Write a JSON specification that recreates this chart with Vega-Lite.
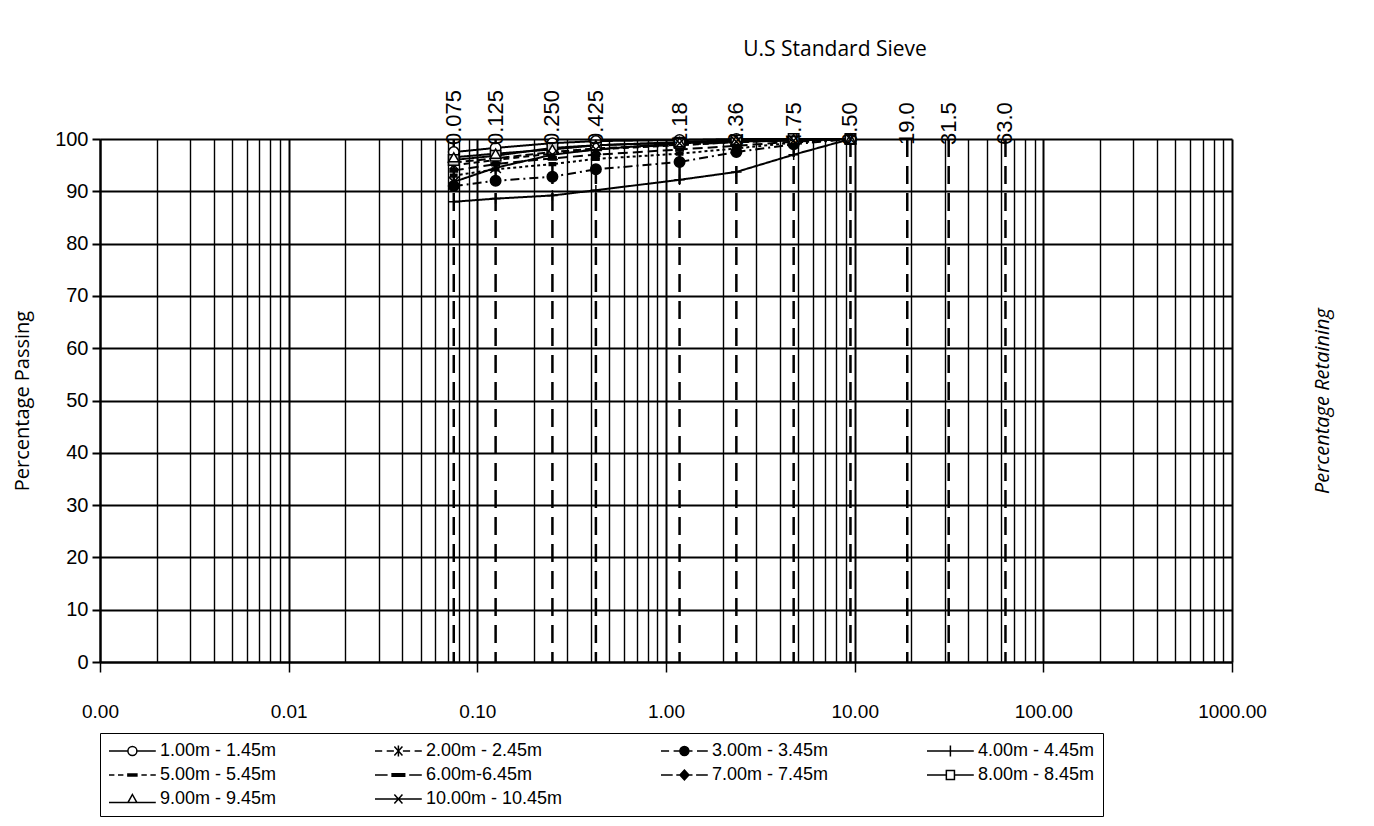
{
  "$schema": "https://vega.github.io/schema/vega-lite/v6.json",
  "width": 1132,
  "height": 523,
  "autosize": {"type": "none"},
  "padding": {"left": 100, "top": 139, "right": 142, "bottom": 164},
  "background": "white",
  "config": {"view": {"stroke": null}, "font": "Liberation Sans"},
  "title": {"text": "U.S Standard Sieve", "fontSize": 21, "font": "Open Sans", "fontWeight": "normal", "color": "black", "anchor": "middle", "dx": 169, "offset": 30},
  "datasets": {
    "curves": [
      {"s": "1.00m - 1.45m", "size": 0.075, "pct": 97.5}, {"s": "1.00m - 1.45m", "size": 0.125, "pct": 98.3}, {"s": "1.00m - 1.45m", "size": 0.25, "pct": 99.2}, {"s": "1.00m - 1.45m", "size": 0.425, "pct": 99.6}, {"s": "1.00m - 1.45m", "size": 1.18, "pct": 99.8}, {"s": "1.00m - 1.45m", "size": 2.36, "pct": 100}, {"s": "1.00m - 1.45m", "size": 4.75, "pct": 100}, {"s": "1.00m - 1.45m", "size": 9.5, "pct": 100},
      {"s": "2.00m - 2.45m", "size": 0.075, "pct": 95}, {"s": "2.00m - 2.45m", "size": 0.125, "pct": 96}, {"s": "2.00m - 2.45m", "size": 0.25, "pct": 97.2}, {"s": "2.00m - 2.45m", "size": 0.425, "pct": 98}, {"s": "2.00m - 2.45m", "size": 1.18, "pct": 98.8}, {"s": "2.00m - 2.45m", "size": 2.36, "pct": 99.4}, {"s": "2.00m - 2.45m", "size": 4.75, "pct": 99.8}, {"s": "2.00m - 2.45m", "size": 9.5, "pct": 100},
      {"s": "3.00m - 3.45m", "size": 0.075, "pct": 91}, {"s": "3.00m - 3.45m", "size": 0.125, "pct": 92}, {"s": "3.00m - 3.45m", "size": 0.25, "pct": 92.8}, {"s": "3.00m - 3.45m", "size": 0.425, "pct": 94.2}, {"s": "3.00m - 3.45m", "size": 1.18, "pct": 95.6}, {"s": "3.00m - 3.45m", "size": 2.36, "pct": 97.5}, {"s": "3.00m - 3.45m", "size": 4.75, "pct": 99}, {"s": "3.00m - 3.45m", "size": 9.5, "pct": 100},
      {"s": "4.00m - 4.45m", "size": 0.075, "pct": 88}, {"s": "4.00m - 4.45m", "size": 0.125, "pct": 88.6}, {"s": "4.00m - 4.45m", "size": 0.25, "pct": 89.2}, {"s": "4.00m - 4.45m", "size": 0.425, "pct": 90.2}, {"s": "4.00m - 4.45m", "size": 1.18, "pct": 92.2}, {"s": "4.00m - 4.45m", "size": 2.36, "pct": 93.7}, {"s": "4.00m - 4.45m", "size": 4.75, "pct": 97}, {"s": "4.00m - 4.45m", "size": 9.5, "pct": 100},
      {"s": "5.00m - 5.45m", "size": 0.075, "pct": 93}, {"s": "5.00m - 5.45m", "size": 0.125, "pct": 94.2}, {"s": "5.00m - 5.45m", "size": 0.25, "pct": 95.2}, {"s": "5.00m - 5.45m", "size": 0.425, "pct": 96.2}, {"s": "5.00m - 5.45m", "size": 1.18, "pct": 97.2}, {"s": "5.00m - 5.45m", "size": 2.36, "pct": 98.2}, {"s": "5.00m - 5.45m", "size": 4.75, "pct": 99.3}, {"s": "5.00m - 5.45m", "size": 9.5, "pct": 100},
      {"s": "6.00m-6.45m", "size": 0.075, "pct": 94}, {"s": "6.00m-6.45m", "size": 0.125, "pct": 95.2}, {"s": "6.00m-6.45m", "size": 0.25, "pct": 96.3}, {"s": "6.00m-6.45m", "size": 0.425, "pct": 97}, {"s": "6.00m-6.45m", "size": 1.18, "pct": 98}, {"s": "6.00m-6.45m", "size": 2.36, "pct": 98.7}, {"s": "6.00m-6.45m", "size": 4.75, "pct": 99.5}, {"s": "6.00m-6.45m", "size": 9.5, "pct": 100},
      {"s": "7.00m - 7.45m", "size": 0.075, "pct": 95.5}, {"s": "7.00m - 7.45m", "size": 0.125, "pct": 96.3}, {"s": "7.00m - 7.45m", "size": 0.25, "pct": 97.5}, {"s": "7.00m - 7.45m", "size": 0.425, "pct": 98.2}, {"s": "7.00m - 7.45m", "size": 1.18, "pct": 98.9}, {"s": "7.00m - 7.45m", "size": 2.36, "pct": 99.4}, {"s": "7.00m - 7.45m", "size": 4.75, "pct": 99.8}, {"s": "7.00m - 7.45m", "size": 9.5, "pct": 100},
      {"s": "8.00m - 8.45m", "size": 0.075, "pct": 96}, {"s": "8.00m - 8.45m", "size": 0.125, "pct": 96.8}, {"s": "8.00m - 8.45m", "size": 0.25, "pct": 98.3}, {"s": "8.00m - 8.45m", "size": 0.425, "pct": 98.8}, {"s": "8.00m - 8.45m", "size": 1.18, "pct": 99.3}, {"s": "8.00m - 8.45m", "size": 2.36, "pct": 99.7}, {"s": "8.00m - 8.45m", "size": 4.75, "pct": 100}, {"s": "8.00m - 8.45m", "size": 9.5, "pct": 100},
      {"s": "9.00m - 9.45m", "size": 0.075, "pct": 96.5}, {"s": "9.00m - 9.45m", "size": 0.125, "pct": 97.2}, {"s": "9.00m - 9.45m", "size": 0.25, "pct": 98}, {"s": "9.00m - 9.45m", "size": 0.425, "pct": 98.8}, {"s": "9.00m - 9.45m", "size": 1.18, "pct": 99.4}, {"s": "9.00m - 9.45m", "size": 2.36, "pct": 99.8}, {"s": "9.00m - 9.45m", "size": 4.75, "pct": 100}, {"s": "9.00m - 9.45m", "size": 9.5, "pct": 100},
      {"s": "10.00m - 10.45m", "size": 0.075, "pct": 91.8}, {"s": "10.00m - 10.45m", "size": 0.125, "pct": 94.5}, {"s": "10.00m - 10.45m", "size": 0.25, "pct": 97}, {"s": "10.00m - 10.45m", "size": 0.425, "pct": 98}, {"s": "10.00m - 10.45m", "size": 1.18, "pct": 99.2}, {"s": "10.00m - 10.45m", "size": 2.36, "pct": 99.5}, {"s": "10.00m - 10.45m", "size": 4.75, "pct": 99.7}, {"s": "10.00m - 10.45m", "size": 9.5, "pct": 100}
    ],
    "sieves": [
      {"size": 0.075, "label": "0.075"}, {"size": 0.125, "label": "0.125"}, {"size": 0.25, "label": "0.250"}, {"size": 0.425, "label": "0.425"},
      {"size": 1.18, "label": "1.18"}, {"size": 2.36, "label": "2.36"}, {"size": 4.75, "label": "4.75"}, {"size": 9.5, "label": "9.50"},
      {"size": 19, "label": "19.0"}, {"size": 31.5, "label": "31.5"}, {"size": 63, "label": "63.0"}
    ]
  },
  "layer": [
    {
      "data": {"name": "curves"},
      "mark": {"type": "line", "color": "black", "strokeWidth": 2},
      "encoding": {
        "x": {"field": "size", "type": "quantitative", "title": null, "scale": {"type": "log", "domain": [0.001, 1000], "nice": false},
          "axis": {"orient": "bottom", "title": null,
            "values": [0.001,0.002,0.003,0.004,0.005,0.006,0.007,0.008,0.009,0.01,0.02,0.03,0.04,0.05,0.06,0.07,0.08,0.09,0.1,0.2,0.3,0.4,0.5,0.6,0.7,0.8,0.9,1,2,3,4,5,6,7,8,9,10,20,30,40,50,60,70,80,90,100,200,300,400,500,600,700,800,900,1000],
            "labelExpr": "abs(log(datum.value)/LN10 - round(log(datum.value)/LN10)) < 0.000001 ? format(datum.value, '.2f') : ''",
            "grid": true, "gridColor": "black", "gridOpacity": 1,
            "gridWidth": {"condition": {"test": "abs(log(datum.value)/LN10 - round(log(datum.value)/LN10)) < 0.000001", "value": 2}, "value": 1.4},
            "tickSize": 10, "tickColor": "black", "tickWidth": 1.5,
            "tickOpacity": {"condition": {"test": "abs(log(datum.value)/LN10 - round(log(datum.value)/LN10)) < 0.000001", "value": 1}, "value": 0},
            "domainColor": "black", "domainWidth": 2,
            "labelFontSize": 19, "labelFont": "Liberation Sans", "labelColor": "black", "labelPadding": 30,
            "labelOverlap": false, "labelFlush": false}},
        "y": {"field": "pct", "type": "quantitative", "scale": {"domain": [0, 100], "nice": false},
          "axis": {"orient": "left", "values": [0,10,20,30,40,50,60,70,80,90,100],
            "grid": true, "gridColor": "black", "gridWidth": 2, "gridOpacity": 1,
            "domainColor": "black", "domainWidth": 2, "tickColor": "black", "tickSize": 8, "tickWidth": 2,
            "labelFontSize": 20, "labelFont": "Liberation Sans", "labelColor": "black", "labelPadding": 4,
            "title": "Percentage Passing", "titleFontSize": 20, "titleFont": "Open Sans", "titleFontWeight": "normal", "titleColor": "black", "titlePadding": 22}},
        "strokeDash": {"field": "s", "type": "nominal",
          "scale": {"domain": ["1.00m - 1.45m","2.00m - 2.45m","3.00m - 3.45m","4.00m - 4.45m","5.00m - 5.45m","6.00m-6.45m","7.00m - 7.45m","8.00m - 8.45m","9.00m - 9.45m","10.00m - 10.45m"],
            "range": [[1,0],[6,4],[9,4,2,4],[1,0],[3,3],[10,5],[8,4],[1,0],[1,0],[1,0]]},
          "legend": null}
      }
    },
    {
      "data": {"name": "sieves"},
      "mark": {"type": "rule", "color": "black", "strokeWidth": 2.5, "strokeDash": [18, 9]},
      "encoding": {
        "x": {"field": "size", "type": "quantitative", "title": null}
      }
    },
    {
      "data": {"name": "curves"},
      "mark": {"type": "point", "filled": true, "stroke": "black", "strokeWidth": 1.5, "size": 110, "opacity": 1},
      "encoding": {
        "x": {"field": "size", "type": "quantitative", "title": null},
        "y": {"field": "pct", "type": "quantitative", "axis": null},
        "shape": {"field": "s", "type": "nominal",
          "scale": {"domain": ["1.00m - 1.45m","2.00m - 2.45m","3.00m - 3.45m","4.00m - 4.45m","5.00m - 5.45m","6.00m-6.45m","7.00m - 7.45m","8.00m - 8.45m","9.00m - 9.45m","10.00m - 10.45m"],
            "range": ["circle", "M-1,0H1M0,-1V1M-0.7,-0.7L0.7,0.7M-0.7,0.7L0.7,-0.7", "circle", "M-1,0H1M0,-1V1", "M-0.6,-0.25H0.6V0.25H-0.6Z", "M-0.7,-0.3H0.7V0.3H-0.7Z", "diamond", "square", "triangle-up", "M-1,-1L1,1M-1,1L1,-1"]},
          "legend": null},
        "fill": {"field": "s", "type": "nominal",
          "scale": {"domain": ["1.00m - 1.45m","2.00m - 2.45m","3.00m - 3.45m","4.00m - 4.45m","5.00m - 5.45m","6.00m-6.45m","7.00m - 7.45m","8.00m - 8.45m","9.00m - 9.45m","10.00m - 10.45m"],
            "range": ["white","white","black","white","black","black","black","#d0d0d0","white","white"]},
          "legend": null}
      }
    },
    {
      "data": {"name": "curves"},
      "mark": {"type": "point", "filled": true, "stroke": "black", "strokeWidth": 1.5, "size": 324, "opacity": 0},
      "encoding": {
        "x": {"field": "size", "type": "quantitative", "title": null},
        "y": {"field": "pct", "type": "quantitative", "axis": null},
        "shape": {"field": "s", "type": "nominal",
          "scale": {"domain": ["1.00m - 1.45m","2.00m - 2.45m","3.00m - 3.45m","4.00m - 4.45m","5.00m - 5.45m","6.00m-6.45m","7.00m - 7.45m","8.00m - 8.45m","9.00m - 9.45m","10.00m - 10.45m"],
            "range": [
              "M-1,0H1.1M2.1,0H4.2M1.1,0A0.5,0.5 0 1,0 2.1,0A0.5,0.5 0 1,0 1.1,0Z",
              "M-1,0H-0.2M0.3,0H1.1M2.1,0H2.9M3.4,0H4.2M1.15,-0.5L2.05,0.5M1.15,0.5L2.05,-0.5M1.6,-0.6V0.6",
              "M-1,0H-0.1M0.4,0H1.1M2.1,0H2.5M3,0H4.2M1.1,0A0.5,0.5 0 1,0 2.1,0A0.5,0.5 0 1,0 1.1,0Z",
              "M-1,0H4.2M1.6,-0.6V0.6",
              "M-1,0H-0.4M0,0H0.6M1.1,-0.12H2.1V0.12H1.1ZM2.6,0H3.2M3.6,0H4.2",
              "M-1,0H0.4M0.9,-0.15H2.3V0.15H0.9ZM2.8,0H4.2",
              "M-1,0H0.3M0.7,0H1.1M2.1,0H2.5M2.9,0H4.2M1.6,-0.55L2.1,0L1.6,0.55L1.1,0Z",
              "M-1,0H1.15M2.05,0H4.2M1.15,-0.5H2.05V0.5H1.15Z",
              "M-1,0.4H4.2M1.6,-0.5L2.1,0.4H1.1Z",
              "M-1,0H4.2M1.15,-0.5L2.05,0.5M1.15,0.5L2.05,-0.5"
            ]},
          "legend": {"title": null, "orient": "bottom", "direction": "horizontal", "columns": 4, "columnPadding": 95, "rowPadding": 5,
            "labelFontSize": 18, "labelFont": "Liberation Sans", "labelColor": "black", "labelLimit": 300, "labelOffset": 32,
            "symbolSize": 324, "symbolStrokeWidth": 1.5, "symbolStrokeColor": "black", "symbolOpacity": 1,
            "strokeColor": "black", "padding": 8, "offset": 12,
            "encode": {"symbols": {"update": {"stroke": {"value": "black"}, "strokeWidth": {"value": 1.5}, "opacity": {"value": 1}, "fillOpacity": {"value": 1}, "strokeOpacity": {"value": 1}}}}}},
        "fill": {"field": "s", "type": "nominal",
          "scale": {"domain": ["1.00m - 1.45m","2.00m - 2.45m","3.00m - 3.45m","4.00m - 4.45m","5.00m - 5.45m","6.00m-6.45m","7.00m - 7.45m","8.00m - 8.45m","9.00m - 9.45m","10.00m - 10.45m"],
            "range": ["white","white","black","white","black","black","black","white","white","white"]},
          "legend": {"title": null, "orient": "bottom", "direction": "horizontal", "columns": 4, "columnPadding": 95, "rowPadding": 5,
            "labelFontSize": 18, "labelFont": "Liberation Sans", "labelColor": "black", "labelLimit": 300, "labelOffset": 32,
            "symbolSize": 324, "symbolStrokeWidth": 1.5, "symbolStrokeColor": "black", "symbolOpacity": 1,
            "strokeColor": "black", "padding": 8, "offset": 12,
            "encode": {"symbols": {"update": {"stroke": {"value": "black"}, "strokeWidth": {"value": 1.5}, "opacity": {"value": 1}, "fillOpacity": {"value": 1}, "strokeOpacity": {"value": 1}}}}}}
      }
    },
    {
      "data": {"name": "sieves"},
      "mark": {"type": "text", "angle": 270, "align": "left", "baseline": "middle", "fontSize": 22, "font": "Liberation Sans", "dx": -6, "color": "black"},
      "encoding": {
        "x": {"field": "size", "type": "quantitative", "title": null},
        "y": {"datum": 100, "type": "quantitative",
          "axis": {"orient": "right", "title": "Percentage Retaining", "titleAngle": 270, "labels": false, "ticks": false, "domain": false, "grid": false,
            "titlePadding": 100, "titleFontSize": 20, "titleFontStyle": "italic", "titleFontWeight": "normal", "titleFont": "Open Sans", "titleColor": "black"}},
        "text": {"field": "label"}
      }
    }
  ],
  "resolve": {"axis": {"y": "independent"}, "scale": {"shape": "independent", "fill": "independent"}}
}
